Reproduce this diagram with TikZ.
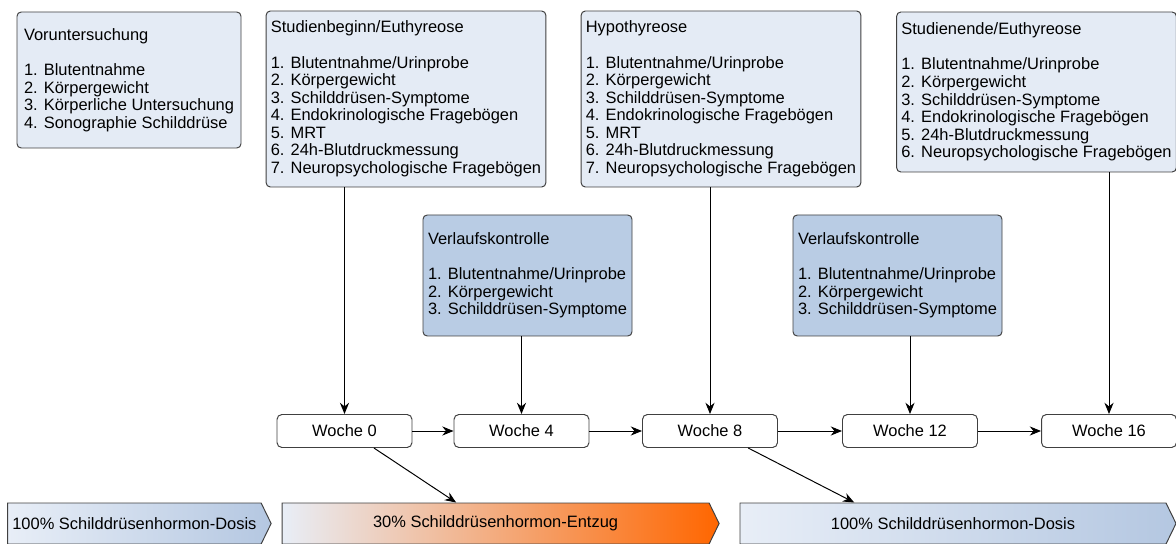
\documentclass[tikz,border=0pt]{standalone}
\usepackage{fontspec}
\setmainfont{Liberation Sans}
\usetikzlibrary{arrows.meta,shapes.symbols}
\definecolor{examfill}{HTML}{E4EBF5}
\definecolor{controlfill}{HTML}{B9CCE4}
\definecolor{frame}{HTML}{404040}
\definecolor{dosislight}{HTML}{E8EEF7}
\definecolor{dosisblue}{HTML}{B4C7E1}
\definecolor{entzug}{HTML}{FF6600}

\begin{document}
\begin{tikzpicture}[>={Stealth[length=8pt,width=6.5pt]}, line width=0.7pt,
        exam/.style={draw=frame, fill=examfill, rounded corners=3pt, align=left, font=\fontsize{11.7}{12.5}\selectfont},
        control/.style={exam, fill=controlfill},
        week/.style={draw=frame, fill=white, rounded corners=3.5pt, minimum width=3.375cm, minimum height=0.825cm, font=\fontsize{11.7}{12.5}\selectfont},
        phase/.style={draw=frame, shape=signal, signal to=east, signal pointer angle=128, minimum height=1.025cm, font=\fontsize{11.7}{12.5}\selectfont}]
    \useasboundingbox (0,0) rectangle (29.4,-13.6);
    \node[exam, minimum width=5.6cm, minimum height=3.4cm] (vorunt) at (3.225,-2.0) {Voruntersuchung\\[12.5pt]1. Blutentnahme\\2. Körpergewicht\\3. Körperliche Untersuchung\\4. Sonographie Schilddrüse};
    \node[exam, minimum width=6.95cm, minimum height=4.4cm] (beginn) at (10.15,-2.475) {Studienbeginn/Euthyreose\\[12.5pt]1. Blutentnahme/Urinprobe\\2. Körpergewicht\\3. Schilddrüsen-Symptome\\4. Endokrinologische Fragebögen\\5. MRT\\6. 24h-Blutdruckmessung\\7. Neuropsychologische Fragebögen};
    \node[exam, minimum width=6.95cm, minimum height=4.4cm] (hypo) at (18.025,-2.475) {Hypothyreose\\[12.5pt]1. Blutentnahme/Urinprobe\\2. Körpergewicht\\3. Schilddrüsen-Symptome\\4. Endokrinologische Fragebögen\\5. MRT\\6. 24h-Blutdruckmessung\\7. Neuropsychologische Fragebögen};
    \node[exam, minimum width=6.925cm, minimum height=4.0cm] (ende) at (25.9125,-2.3) {Studienende/Euthyreose\\[12.5pt]1. Blutentnahme/Urinprobe\\2. Körpergewicht\\3. Schilddrüsen-Symptome\\4. Endokrinologische Fragebögen\\5. 24h-Blutdruckmessung\\6. Neuropsychologische Fragebögen};
    \node[control, minimum width=5.225cm, minimum height=3.025cm] (verlaufa) at (13.1875,-6.8875) {Verlaufskontrolle\\[12.5pt]1. Blutentnahme/Urinprobe\\2. Körpergewicht\\3. Schilddrüsen-Symptome};
    \node[control, minimum width=5.225cm, minimum height=3.025cm] (verlaufb) at (22.4375,-6.8875) {Verlaufskontrolle\\[12.5pt]1. Blutentnahme/Urinprobe\\2. Körpergewicht\\3. Schilddrüsen-Symptome};
    \node[week] (woche0) at (8.6125,-10.775) {Woche 0};
    \node[week] (woche4) at (13.0375,-10.775) {Woche 4};
    \node[week] (woche8) at (17.75,-10.775) {Woche 8};
    \node[week] (woche12) at (22.75,-10.775) {Woche 12};
    \node[week] (woche16) at (27.725,-10.775) {Woche 16};
    \node[phase, minimum width=6.275cm, left color=dosislight, right color=dosisblue] (dosisa) at (3.36,-13.0875) {100\% Schilddrüsenhormon-Dosis};
    \node[phase, minimum width=10.925cm, left color=dosislight, right color=entzug] (entzug) at (12.39,-13.0875) {30\% Schilddrüsenhormon-Entzug};
    \node[phase, minimum width=10.9cm, left color=dosislight, right color=dosisblue] (dosisb) at (23.825,-13.0875) {100\% Schilddrüsenhormon-Dosis};
    \draw[->] (beginn.south -| woche0) -- (woche0.north);
    \draw[->] (verlaufa.south -| woche4) -- (woche4.north);
    \draw[->] (hypo.south -| woche8) -- (woche8.north);
    \draw[->] (verlaufb.south -| woche12) -- (woche12.north);
    \draw[->] (ende.south -| woche16) -- (woche16.north);
    \draw[->] (woche0.east) -- (woche4.west);
    \draw[->] (woche4.east) -- (woche8.west);
    \draw[->] (woche8.east) -- (woche12.west);
    \draw[->] (woche12.east) -- (woche16.west);
    \draw[->] (woche0.-30) -- (entzug.152);
    \draw[->] (woche8.-24) -- (dosisb.168);
\end{tikzpicture}
\end{document}
